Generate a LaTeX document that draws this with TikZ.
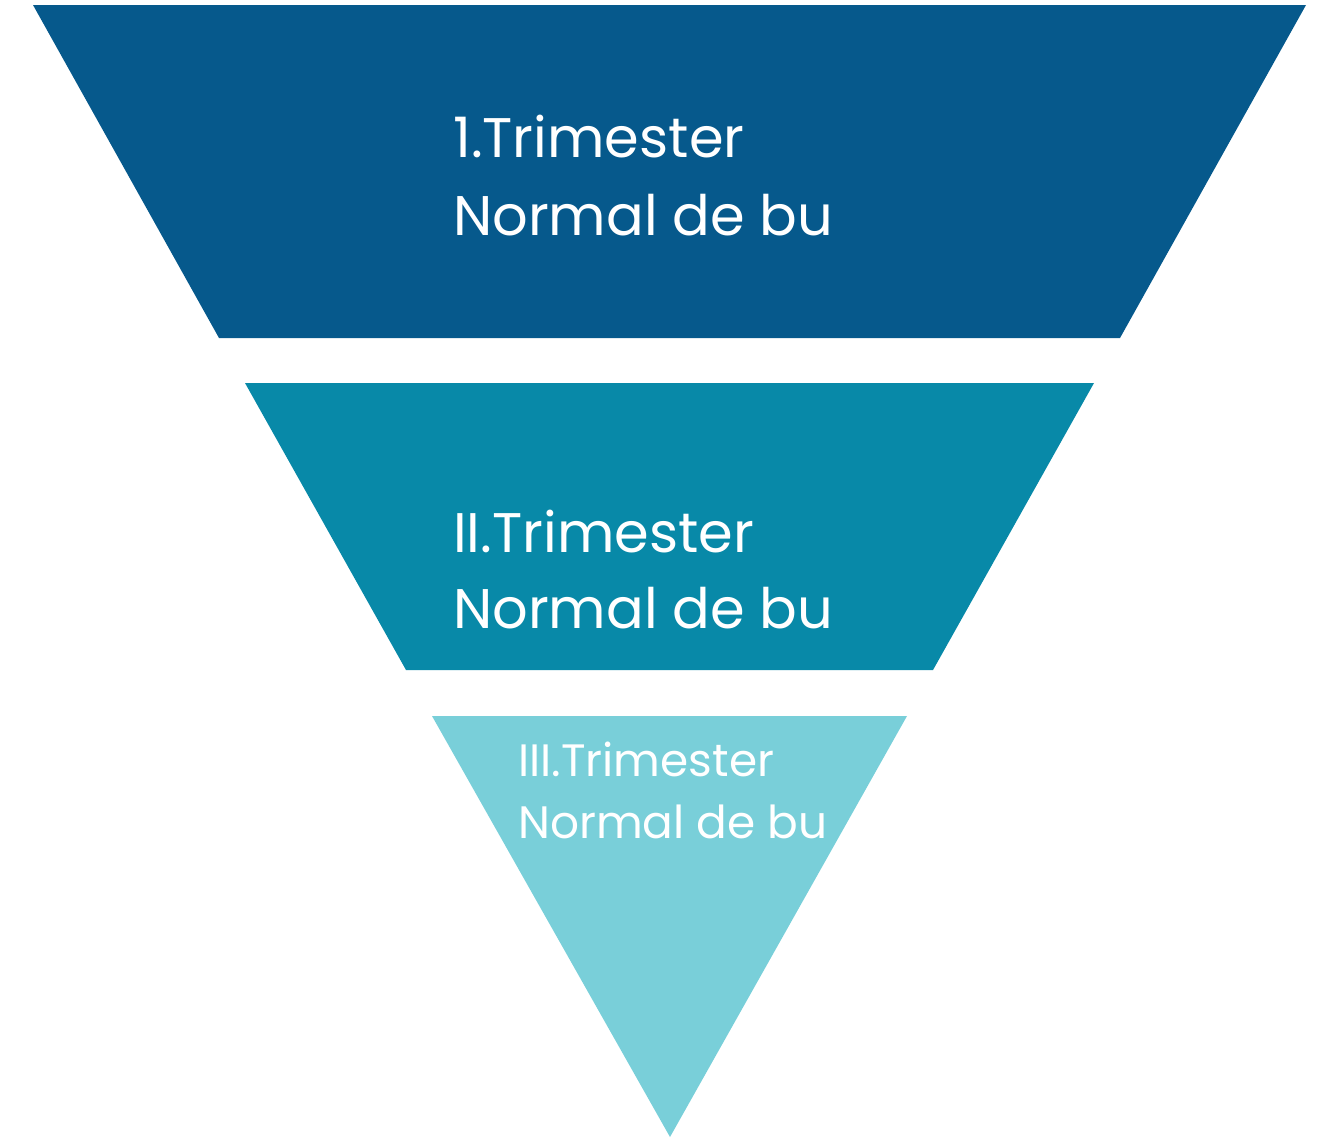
\documentclass[tikz,border=0pt]{standalone}
\usepackage{fontspec}
\setmainfont{Poppins}
\usetikzlibrary{positioning}
\definecolor{stageone}{HTML}{06598C}
\definecolor{stagetwo}{HTML}{0889A8}
\definecolor{stagethree}{HTML}{79CFD9}

\begin{document}
\begin{tikzpicture}[x=1pt,y=-1pt,
                    big/.style={text=white,anchor=base west,inner sep=0pt,
                                font=\fontsize{55.8}{67}\selectfont},
                    small/.style={big,font=\fontsize{45.4}{54}\selectfont}]
  \useasboundingbox (0,0) rectangle (1327,1138);

  % funnel
  \fill[stageone]   (33,5)   -- (1306,5)   -- (1120,338) -- (219,338) -- cycle;
  \fill[stagetwo]   (245,383) -- (1094,383) -- (933,670)  -- (406,670) -- cycle;
  \fill[stagethree] (432,716) -- (907,716)  -- (670,1137) -- cycle;

  \node[big]   (T1) at (453,157) {1.Trimester};
  \node[big]   (N1) at (453,235) {Normal de bu};
  \node[big]   (T2) at (453,552) {II.Trimester};
  \node[big]   (N2) at (453,628) {Normal de bu};
  \node[small] (T3) at (518,776) {III.Trimester};
  \node[small] (N3) at (518,838) {Normal de bu};
\end{tikzpicture}
\end{document}
